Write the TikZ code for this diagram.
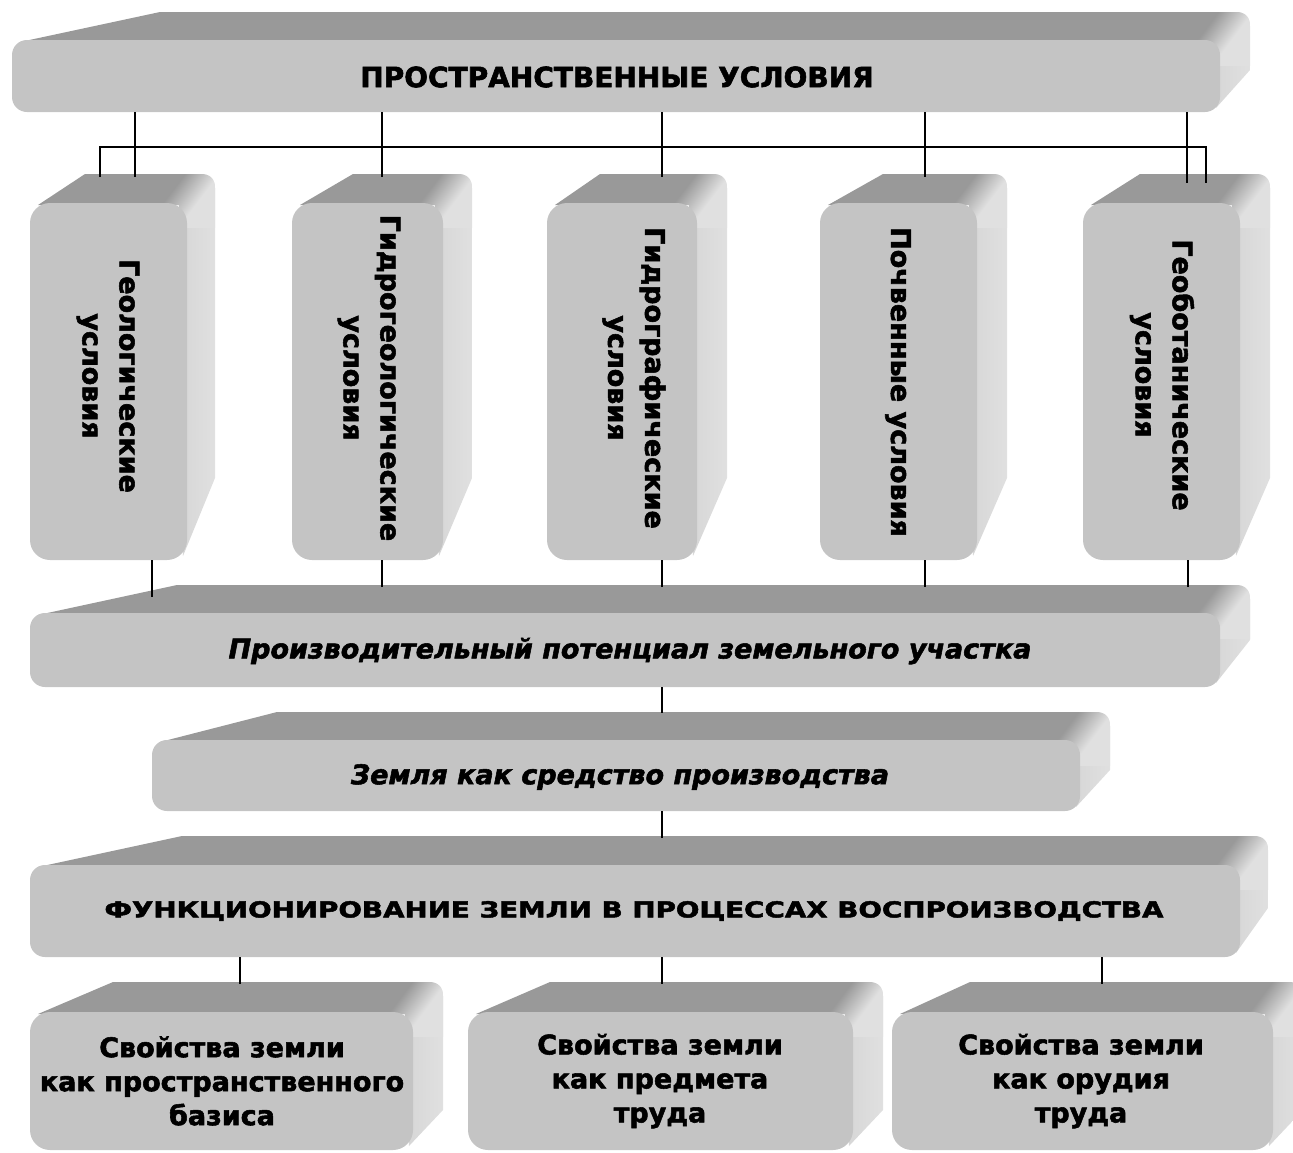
\documentclass[tikz,border=0pt]{standalone}
\usepackage{fontspec}
\setmainfont{DejaVu Sans}[BoldFeatures={FakeBold=2},BoldItalicFeatures={FakeBold=2}]
\definecolor{frontcol}{HTML}{C4C4C4}
\definecolor{topcol}{HTML}{999999}
\definecolor{sidecol}{HTML}{E0E0E0}
\definecolor{sidedark}{HTML}{D6D6D6}
\pgfdeclarehorizontalshading{foldshade}{100bp}{color(0bp)=(topcol); color(41bp)=(topcol); color(59bp)=(sidecol); color(100bp)=(sidecol)}
\tikzset{
  link/.style={line width=2pt, black},
  vlabel/.style={rotate=-90, align=center, inner sep=0pt,
    font=\bfseries\fontsize{27}{37}\selectfont},
  blabel/.style={align=center, inner sep=0pt,
    font=\bfseries\fontsize{27}{34}\selectfont},
  ilabel/.style={inner sep=0pt, font=\bfseries\itshape\fontsize{27}{30}\selectfont},
  clabel/.style={inner sep=0pt, font=\bfseries\fontsize{28}{30}\selectfont},
  fold/.style={shading=foldshade, shading angle=-37},
}
% #1 name, #2 x0, #3 x1, #4 y0, #5 y1, #6 back-left x, #7 back top y, #8 side right x, #9 side straight end y
\newcommand\solidbox[9]{%
  \fill[topcol] (#2+8,#4+2) -- (#6,#7) -- (#8-14,#7) -- (#3-8,#4+2) -- cycle;
  \shade[left color=sidedark, right color=sidecol]
    (#3-8,#4) -- (#8-14,#7) .. controls (#8-5,#7) and (#8,#7+5) .. (#8,#7+14)
    -- (#8,#9) -- (#3-4,#5-4) -- cycle;
  \begin{scope}
    \clip (#2+8,#4+2) -- (#6,#7) -- (#8-14,#7) .. controls (#8-5,#7) and (#8,#7+5) .. (#8,#7+14)
      -- (#8,#9) -- (#3-4,#5-4) -- (#3-8,#4+2) -- cycle;
    \shade[fold] ({(#3+#8)/2-11-38},{(#4+#7)/2+1-38}) rectangle ++(76,76);
  \end{scope}
  \fill[frontcol, rounded corners=\rad] (#2,#4) rectangle (#3,#5);
  \coordinate (#1) at ({(#2+#3)/2},{(#4+#5)/2});
}
\begin{document}
\begin{tikzpicture}[x=1pt,y=-1pt]
\useasboundingbox (0,0) rectangle (1293,1152);
\clip (0,0) rectangle (1293,1152);

% ---- boxes ----
\def\rad{15}
\solidbox{top}{12}{1220}{40}{112}{160}{12}{1250}{70}
\def\rad{20}
\solidbox{v1}{30}{187}{203}{560}{85}{174}{215}{478}
\solidbox{v2}{292}{443}{203}{560}{353}{174}{472}{478}
\solidbox{v3}{547}{697}{203}{560}{600}{174}{727}{478}
\solidbox{v4}{820}{977}{203}{560}{883}{174}{1007}{478}
\solidbox{v5}{1083}{1240}{203}{560}{1140}{174}{1270}{478}
\def\rad{15}
\solidbox{pot}{30}{1220}{613}{687}{177}{585}{1250}{640}
\solidbox{zem}{152}{1080}{740}{811}{277}{712}{1110}{770}
\solidbox{fun}{30}{1240}{865}{957}{182}{836}{1268}{908}
\def\rad{20}
\solidbox{b1}{30}{413}{1012}{1150}{113}{982}{443}{1110}
\solidbox{b2}{468}{853}{1012}{1150}{550}{982}{883}{1110}
\solidbox{b3}{892}{1273}{1012}{1150}{970}{982}{1303}{1110}

% ---- connector end points ----
\coordinate (a1) at (135,112);  \coordinate (a1e) at (135,177);
\coordinate (a2) at (382,112);  \coordinate (a2e) at (382,177);
\coordinate (a3) at (662,112);  \coordinate (a3e) at (662,177);
\coordinate (a4) at (925,112);  \coordinate (a4e) at (925,177);
\coordinate (a5) at (1187,112); \coordinate (a5e) at (1187,183);
\coordinate (busL) at (100,147); \coordinate (busR) at (1206,147);
\coordinate (busLe) at (100,177); \coordinate (busRe) at (1206,183);
\coordinate (c1) at (152,560);  \coordinate (c1e) at (152,597);
\coordinate (c2) at (382,560);  \coordinate (c2e) at (382,587);
\coordinate (c3) at (662,560);  \coordinate (c3e) at (662,587);
\coordinate (c4) at (925,560);  \coordinate (c4e) at (925,587);
\coordinate (c5) at (1188,560); \coordinate (c5e) at (1188,587);
\coordinate (d1) at (662,687);  \coordinate (d1e) at (662,713);
\coordinate (d2) at (662,811);  \coordinate (d2e) at (662,838);
\coordinate (e1) at (240,957);  \coordinate (e1e) at (240,984);
\coordinate (e2) at (662,957);  \coordinate (e2e) at (662,984);
\coordinate (e3) at (1102,957); \coordinate (e3e) at (1102,984);

\draw[link] (a1) -- (a1e);
\draw[link] (a2) -- (a2e);
\draw[link] (a3) -- (a3e);
\draw[link] (a4) -- (a4e);
\draw[link] (a5) -- (a5e);
\draw[link] (busLe) -- (busL) -- (busR) -- (busRe);
\draw[link] (c1) -- (c1e);
\draw[link] (c2) -- (c2e);
\draw[link] (c3) -- (c3e);
\draw[link] (c4) -- (c4e);
\draw[link] (c5) -- (c5e);
\draw[link] (d1) -- (d1e);
\draw[link] (d2) -- (d2e);
\draw[link] (e1) -- (e1e);
\draw[link] (e2) -- (e2e);
\draw[link] (e3) -- (e3e);

% ---- texts ----
\node[clabel] (ttop) at (617,77) {ПРОСТРАНСТВЕННЫЕ УСЛОВИЯ};
\node[vlabel] (tv1) at (108,376) {Геологические\\условия};
\node[vlabel] (tv2) at (369,378) {Гидрогеологические\\условия};
\node[vlabel] (tv3) at (634,378) {Гидрографические\\условия};
\node[vlabel] (tv4) at (898,382) {Почвенные условия};
\node[vlabel] (tv5) at (1162,375) {Геоботанические\\условия};
\node[ilabel] (tpot) at (630,651) {Производительный потенциал земельного участка};
\node[ilabel] (tzem) at (620,777) {Земля как средство производства};
\node[inner sep=0pt] (tfun) at (634,911)
  {\scalebox{1.26}[1]{\bfseries\fontsize{22}{24}\selectfont ФУНКЦИОНИРОВАНИЕ ЗЕМЛИ В ПРОЦЕССАХ ВОСПРОИЗВОДСТВА}};
\node[blabel] (tb1) at (222,1081) {Свойства земли\\как пространственного\\базиса};
\node[blabel] (tb2) at (660,1081) {Свойства земли\\как предмета\\труда};
\node[blabel] (tb3) at (1081,1081) {Свойства земли\\как орудия\\труда};
\end{tikzpicture}
\end{document}
